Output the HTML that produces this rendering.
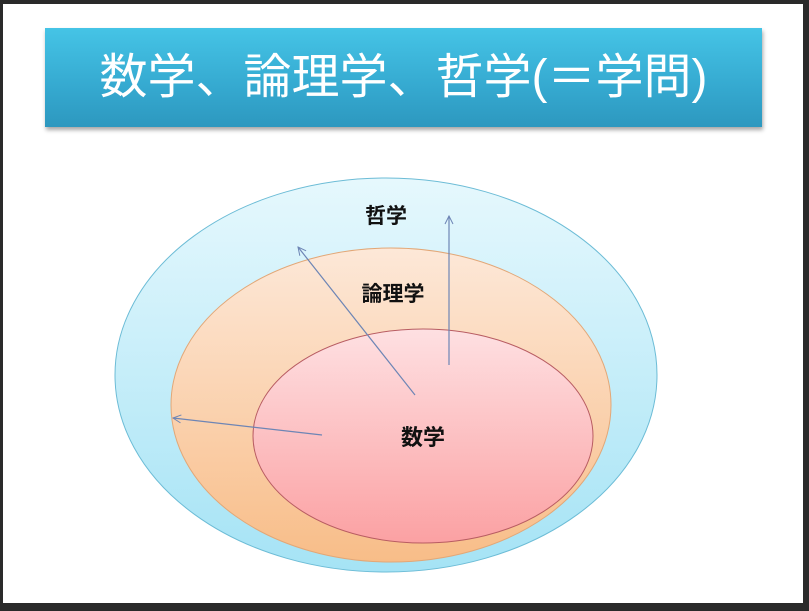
<!DOCTYPE html>
<html><head><meta charset="utf-8"><style>
html,body{margin:0;padding:0;}
body{width:809px;height:611px;background:#2a2a2a;position:relative;overflow:hidden;font-family:"Liberation Sans","Noto Sans CJK JP",sans-serif;}
.slide{position:absolute;left:3px;top:4px;width:800px;height:599px;background:#fff;}
.title{position:absolute;left:45px;top:28px;width:717px;height:99px;background:linear-gradient(#45c4e6,#35a9d0 60%,#2d98bf);box-shadow:1px 3px 4px rgba(0,0,0,0.35);color:#fff;font-size:48px;line-height:99px;text-align:center;}
svg{position:absolute;left:0;top:0;}
</style></head><body>
<div class="slide"></div>
<div class="title">数学、論理学、哲学(＝学問)</div>
<svg width="809" height="611" viewBox="0 0 809 611">
<defs>
<linearGradient id="g1" x1="0" y1="0" x2="0" y2="1"><stop offset="0" stop-color="#e6f8fd"/><stop offset="1" stop-color="#a5e3f5"/></linearGradient>
<linearGradient id="g2" x1="0" y1="0" x2="0" y2="1"><stop offset="0" stop-color="#fde8d8"/><stop offset="1" stop-color="#f8bd88"/></linearGradient>
<linearGradient id="g3" x1="0" y1="0" x2="0" y2="1"><stop offset="0" stop-color="#fee0e2"/><stop offset="1" stop-color="#fba1a3"/></linearGradient>
<marker id="ah" markerWidth="10" markerHeight="10" refX="9" refY="5" orient="auto" markerUnits="userSpaceOnUse"><path d="M1,1 L9,5 L1,9" fill="none" stroke="#6d85b5" stroke-width="1"/></marker>
</defs>
<ellipse cx="386" cy="375" rx="271" ry="197" fill="url(#g1)" stroke="#6cbcd6" stroke-width="1"/>
<ellipse cx="391" cy="405" rx="220" ry="157" fill="url(#g2)" stroke="#e2a777" stroke-width="1"/>
<ellipse cx="423" cy="436" rx="170" ry="107" fill="url(#g3)" stroke="#b85c62" stroke-width="1"/>
<line x1="415" y1="395" x2="298" y2="247" stroke="#6d85b5" stroke-width="1.2" marker-end="url(#ah)"/>
<line x1="449" y1="365" x2="449" y2="216" stroke="#6d85b5" stroke-width="1.2" marker-end="url(#ah)"/>
<line x1="322" y1="435" x2="173" y2="418" stroke="#6d85b5" stroke-width="1.2" marker-end="url(#ah)"/>
<text x="386" y="223" font-size="21" font-weight="bold" text-anchor="middle" fill="#111" font-family="Liberation Sans, Noto Sans CJK JP, sans-serif">哲学</text>
<text x="393" y="301" font-size="21" font-weight="bold" text-anchor="middle" fill="#111" font-family="Liberation Sans, Noto Sans CJK JP, sans-serif">論理学</text>
<text x="423" y="445" font-size="22" font-weight="bold" text-anchor="middle" fill="#111" font-family="Liberation Sans, Noto Sans CJK JP, sans-serif">数学</text>
</svg>
</body></html>
